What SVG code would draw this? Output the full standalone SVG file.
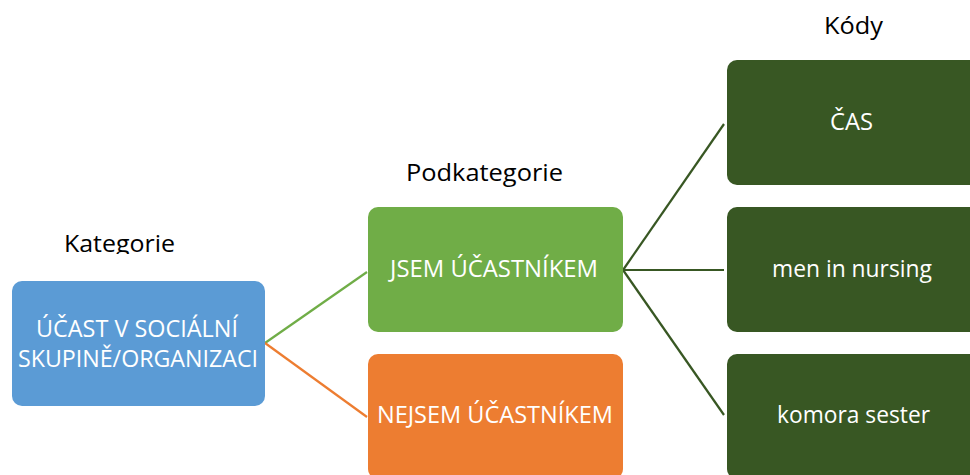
<svg xmlns="http://www.w3.org/2000/svg" width="970" height="475" viewBox="0 0 970 475">
  <defs>
    <style>
      .box { stroke: none; }
      .cat { fill: #5B9BD5; }
      .yes { fill: #70AD47; }
      .no { fill: #ED7D31; }
      .code { fill: #385723; }
      .lbl { font-family: "Open Sans", "Liberation Sans", sans-serif; font-size: 23px; fill: #FFFFFF; }
      .head { font-family: "Open Sans", "Liberation Sans", sans-serif; font-size: 23px; fill: #000000; }
      .ln { fill: none; stroke-width: 2.2; }
    </style>
    <clipPath id="clipKat">
      <rect x="0" y="200" width="260" height="54"/>
    </clipPath>
  </defs>
  <rect width="970" height="475" fill="#FFFFFF"/>

  <!-- column headings -->
  <g id="hdr-kategorie" clip-path="url(#clipKat)">
    <text class="head" x="64" y="252" textLength="111" lengthAdjust="spacingAndGlyphs">Kategorie</text>
  </g>
  <g id="hdr-podkategorie">
    <text class="head" x="406" y="181" textLength="157" lengthAdjust="spacingAndGlyphs">Podkategorie</text>
  </g>
  <g id="hdr-kody">
    <text class="head" x="824" y="34" textLength="59" lengthAdjust="spacingAndGlyphs">Kódy</text>
  </g>

  <!-- connectors -->
  <g id="connectors">
    <line class="ln" x1="265" y1="343" x2="367" y2="272" stroke="#70AD47"/>
    <line class="ln" x1="265" y1="343" x2="367" y2="417" stroke="#ED7D31"/>
    <line class="ln" x1="623" y1="270" x2="724" y2="124" stroke="#385723"/>
    <line class="ln" x1="623" y1="270" x2="724" y2="270" stroke="#385723"/>
    <line class="ln" x1="623" y1="270" x2="724" y2="415" stroke="#385723"/>
  </g>

  <!-- category -->
  <g id="node-ucast">
    <rect class="box cat" x="12" y="281" width="253" height="125" rx="10"/>
    <text class="lbl" x="36" y="337" textLength="202" lengthAdjust="spacingAndGlyphs">ÚČAST V SOCIÁLNÍ</text>
    <text class="lbl" x="18" y="367" textLength="240" lengthAdjust="spacingAndGlyphs">SKUPINĚ/ORGANIZACI</text>
  </g>

  <!-- subcategories -->
  <g id="node-jsem">
    <rect class="box yes" x="368" y="207" width="255" height="125" rx="10"/>
    <text class="lbl" x="390" y="277" textLength="208" lengthAdjust="spacingAndGlyphs">JSEM ÚČASTNÍKEM</text>
  </g>
  <g id="node-nejsem">
    <rect class="box no" x="368" y="354" width="255" height="125" rx="10"/>
    <text class="lbl" x="377" y="423" textLength="236" lengthAdjust="spacingAndGlyphs">NEJSEM ÚČASTNÍKEM</text>
  </g>

  <!-- codes -->
  <g id="node-cas">
    <rect class="box code" x="727" y="60" width="260" height="125" rx="10"/>
    <text class="lbl" x="830" y="130" textLength="43" lengthAdjust="spacingAndGlyphs">ČAS</text>
  </g>
  <g id="node-men">
    <rect class="box code" x="727" y="207" width="260" height="125" rx="10"/>
    <text class="lbl" x="772" y="277" textLength="160" lengthAdjust="spacingAndGlyphs">men in nursing</text>
  </g>
  <g id="node-komora">
    <rect class="box code" x="727" y="354" width="260" height="125" rx="10"/>
    <text class="lbl" x="777" y="423" textLength="153" lengthAdjust="spacingAndGlyphs">komora sester</text>
  </g>
</svg>
